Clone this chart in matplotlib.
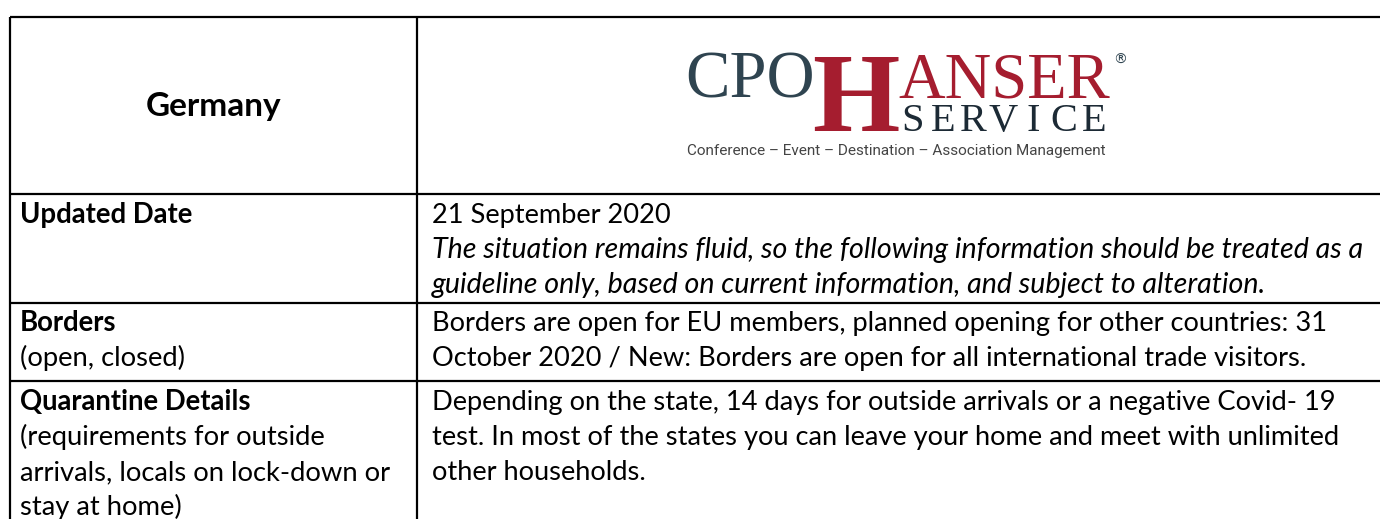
import matplotlib.pyplot as plt

# table content
title = "Germany"
row_labels = [["Updated Date"],
              ["Borders", "(open, closed)"],
              ["Quarantine Details", "(requirements for outside",
               "arrivals, locals on lock-down or", "stay at home)"]]
row_text = [["21 September 2020",
             "The situation remains fluid, so the following information should be treated as a",
             "guideline only, based on current information, and subject to alteration."],
            ["Borders are open for EU members, planned opening for other countries: 31",
             "October 2020 / New: Borders are open for all international trade visitors."],
            ["Depending on the state, 14 days for outside arrivals or a negative Covid- 19",
             "test. In most of the states you can leave your home and meet with unlimited",
             "other households."]]
italic_lines = {(0, 1), (0, 2)}
tagline = "Conference \u2013 Event \u2013 Destination \u2013 Association Management"

# layout (pixels)
W, H = 1380, 519
x_left, x_mid = 10, 417
y_top = 17
row_lines = [194, 303, 381]
first_base = [223, 331, 410]
line_gap = 35

font = 'Lato'

fig = plt.figure(figsize=(W / 100, H / 100), dpi=100)
ax = fig.add_axes([0, 0, 1, 1])
ax.set_xlim(0, W)
ax.set_ylim(H, 0)
ax.axis('off')

lw = 1.6
ax.plot([x_left, W], [y_top, y_top], color='black', lw=lw, solid_capstyle='butt')
ax.plot([x_left, x_left], [y_top, H], color='black', lw=lw, solid_capstyle='butt')
ax.plot([x_mid, x_mid], [y_top, H], color='black', lw=lw, solid_capstyle='butt')
for y in row_lines:
    ax.plot([x_left, W], [y, y], color='black', lw=lw, solid_capstyle='butt')

# header
ax.text((x_left + x_mid) / 2, 116, title, family=font, fontsize=24,
        fontweight='bold', ha='center', va='baseline')

# rows
for i, (labels, texts) in enumerate(zip(row_labels, row_text)):
    for j, s in enumerate(labels):
        ax.text(20, first_base[i] + j * line_gap, s, family=font,
                fontsize=19.8 if j == 0 else 19.7,
                fontweight='bold' if j == 0 else 'normal', va='baseline')
    for j, s in enumerate(texts):
        it = (i, j) in italic_lines
        ax.text(432, first_base[i] + j * line_gap, s, family=font,
                fontsize=20.6 if it else 19.6,
                style='italic' if it else 'normal', va='baseline')

# logo
red = '#a51d2f'
ax.text(685, 97, "CPO", family='Liberation Serif', fontsize=48, color='#2f4450',
        va='baseline')
ax.text(856, 131, "H", family='Liberation Serif', fontsize=81, fontweight='bold',
        color=red, ha='center', va='baseline')
ax.text(898, 97, "ANSER", family='Liberation Serif', fontsize=46.5, color=red,
        va='baseline')
ax.text(1120, 64, "\u00ae", family='DejaVu Sans', fontsize=10, color='#2f4450',
        ha='center', va='baseline')
service = "SERVICE"
for k, ch in enumerate(service):
    ax.text(913 + k * (1094 - 913) / (len(service) - 1), 131, ch,
            family='Liberation Serif', fontsize=29, color='#1c2a35',
            ha='center', va='baseline')
ax.text(896, 155, tagline, family='Roboto', fontsize=11, color='#444444',
        ha='center', va='baseline')

fig.savefig('out.png', dpi=100)
